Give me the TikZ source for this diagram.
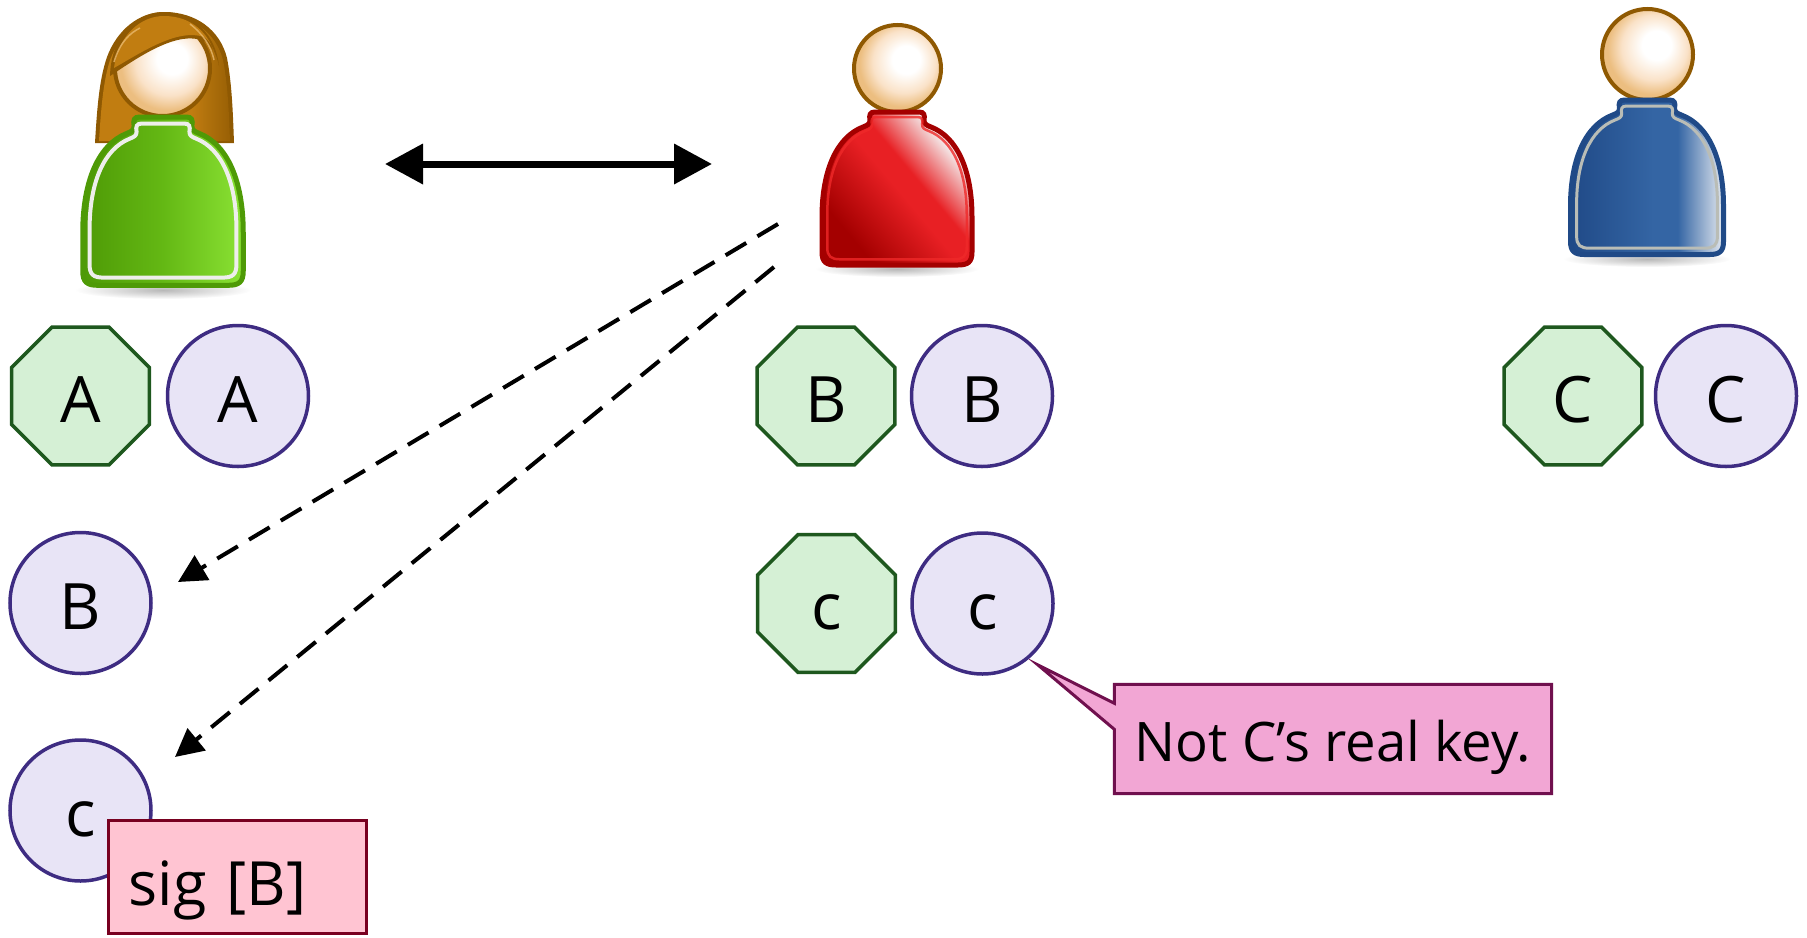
\documentclass[tikz,border=0pt]{standalone}
\usepackage{fontspec}
\setmainfont{Open Sans}
\usetikzlibrary{shapes.geometric,arrows.meta,calc,fadings,backgrounds}

% palette
\definecolor{octfill}{RGB}{213,240,213}
\definecolor{octline}{RGB}{30,88,30}
\definecolor{circfill}{RGB}{232,228,246}
\definecolor{circline}{RGB}{62,44,130}
\definecolor{notefill}{RGB}{242,166,212}
\definecolor{noteline}{RGB}{112,16,78}
\definecolor{sigfill}{RGB}{255,196,210}
\definecolor{sigline}{RGB}{120,0,32}
\definecolor{skinA}{RGB}{250,226,200}
\definecolor{skinB}{RGB}{236,190,128}
\definecolor{headline}{RGB}{143,89,2}
\definecolor{hairmid}{RGB}{193,125,17}
\definecolor{hairdark}{RGB}{143,89,2}
\definecolor{hairlight}{RGB}{233,185,110}
\definecolor{gA}{RGB}{78,154,6}
\definecolor{gB}{RGB}{100,184,20}
\definecolor{gC}{RGB}{138,226,52}
\definecolor{gEdge}{RGB}{78,154,6}
\definecolor{gInner}{RGB}{238,238,236}
\definecolor{rA}{RGB}{164,0,0}
\definecolor{rB}{RGB}{232,32,36}
\definecolor{rC}{RGB}{244,236,236}
\definecolor{rEdge}{RGB}{164,0,0}
\definecolor{rInner}{RGB}{239,41,41}
\definecolor{bA}{RGB}{32,74,135}
\definecolor{bB}{RGB}{52,101,164}
\definecolor{bC}{RGB}{228,233,240}
\definecolor{bEdge}{RGB}{32,74,135}
\definecolor{bInner}{RGB}{186,189,182}

% body shadings
\pgfdeclarehorizontalshading{greenbody}{100bp}{color(0bp)=(gA); color(25bp)=(gA); color(50bp)=(gB); color(75bp)=(gC); color(100bp)=(gC)}
\pgfdeclarehorizontalshading{bluebody}{100bp}{color(0bp)=(bA); color(25bp)=(bA); color(52bp)=(bB); color(60bp)=(bB); color(75bp)=(bC); color(100bp)=(bC)}
\pgfdeclarehorizontalshading{redbody}{100bp}{color(0bp)=(rA); color(28bp)=(rA); color(50bp)=(rB); color(57bp)=(rB); color(72bp)=(rC); color(100bp)=(rC)}
\pgfdeclareradialshading{headshade}{\pgfpoint{6bp}{6bp}}{color(0bp)=(white); color(8bp)=(white); color(18bp)=(skinA); color(25bp)=(skinB); color(50bp)=(skinB)}
\pgfdeclarehorizontalshading{hairshade}{100bp}{color(0bp)=(hairmid); color(25bp)=(hairmid); color(60bp)=(hairmid); color(75bp)=(hairdark!80!hairmid); color(100bp)=(hairdark)}
\tikzfading[name=softedge, inner color=transparent!0, outer color=transparent!100]

\newcommand\keyfont{\fontsize{64}{70}\selectfont}
\newcommand\notefont{\fontsize{54.5}{62}\selectfont}
\newcommand\sigfont{\fontsize{61}{68}\selectfont}

% torso outline, neck top centre at the origin, y pointing down
\def\torsopath{(0,0) -- (22,0) .. controls (27,0) and (28,3) .. (27,8)
  .. controls (27,12) and (29,13) .. (34,15)
  .. controls (60,25) and (75,58) .. (75,105) -- (75,140)
  .. controls (75,150) and (71,153) .. (61,153) -- (-61,153)
  .. controls (-71,153) and (-75,150) .. (-75,140) -- (-75,105)
  .. controls (-75,58) and (-60,25) .. (-34,15)
  .. controls (-29,13) and (-27,12) .. (-27,8)
  .. controls (-28,3) and (-27,0) .. (-22,0) -- cycle}

\tikzset{
  keyoct/.style={regular polygon, regular polygon sides=8, minimum size=149pt,
    inner sep=0pt, draw=octline, fill=octfill, line width=3.5pt, font=\keyfont,
    text height=52pt, text depth=0pt},
  keycirc/.style={circle, minimum size=141pt, inner sep=0pt, draw=circline,
    fill=circfill, line width=3.5pt, font=\keyfont, text height=52pt, text depth=0pt},
  headball/.style={shading=headshade, draw=headline, line width=4pt},
  dropshadow/.style={fill=black, opacity=0.28, path fading=softedge},
  dasharrow/.style={line width=4pt, dash pattern=on 24pt off 13pt,
    -{Triangle[length=28pt,width=28pt]}},
  bigarrow/.style={line width=7pt,
    {Triangle[length=38pt,width=39pt]}-{Triangle[length=38pt,width=39pt]}},
}

\begin{document}
\begin{tikzpicture}[x=1pt,y=-1pt]
\path[use as bounding box] (0,0) rectangle (1807,937);
\clip (0,0) rectangle (1807,937);

% ---------- woman (green) ----------
\fill[hairdark] (95,143) .. controls (97,110) and (99,80) .. (107,57)
  .. controls (117,30) and (139,12) .. (164,12)
  .. controls (196,12) and (220,30) .. (227,58)
  .. controls (232,84) and (233,115) .. (234,143) -- cycle;
\shade[shading=hairshade] (99,141) .. controls (101,110) and (103,82) .. (110,60)
  .. controls (120,34) and (141,16) .. (164,16)
  .. controls (193,16) and (216,33) .. (223,60)
  .. controls (228,85) and (229,115) .. (230,141) -- cycle;
\shadedraw[headball] (162.5,68.5) circle (47.5);
% fringe across the forehead
\fill[hairdark] (110,76) .. controls (140,56) and (178,30) .. (204,41)
  .. controls (212,46) and (217,55) .. (219,66)
  .. controls (216,36) and (194,12) .. (164,12)
  .. controls (136,12) and (111,36) .. (110,76) -- cycle;
\fill[hairmid] (114,68) .. controls (142,52) and (178,28) .. (204,37)
  .. controls (210,41) and (214,49) .. (215,56)
  .. controls (210,34) and (192,16) .. (164,16)
  .. controls (140,16) and (118,36) .. (114,68) -- cycle;
\draw[hairlight, line width=1.5pt, opacity=0.8] (114,62) .. controls (120,42) and (130,33) .. (140,28);
\draw[hairlight, line width=1.5pt, opacity=0.8] (190,24) .. controls (203,34) and (211,46) .. (214,60);
\fill[dropshadow] (163,290) ellipse (88 and 9);
\begin{scope}[shift={(163,117)}, xscale=1.07, yscale=1.1]
  \shadedraw[shading=greenbody, draw=gEdge, line width=5pt] \torsopath;
  \begin{scope}[shift={(0,6)}, xscale=0.915, yscale=0.915]
    \draw[gInner, line width=4pt] \torsopath;
  \end{scope}
\end{scope}

% ---------- red person ----------
\shadedraw[headball] (897.5,68.5) circle (43.5);
\fill[dropshadow] (897,269) ellipse (82 and 8);
\begin{scope}[shift={(897,112)}]
  \shadedraw[shading=redbody, shading angle=40, draw=rEdge, line width=5pt] \torsopath;
  \begin{scope}[shift={(0,5)}, xscale=0.93, yscale=0.93]
    \draw[rInner, line width=2.5pt, opacity=0.8] \torsopath;
  \end{scope}
\end{scope}

% ---------- blue person ----------
\shadedraw[headball] (1647.5,54.5) circle (45.5);
\fill[dropshadow] (1647,259) ellipse (84 and 8);
\begin{scope}[shift={(1647,100)}, xscale=1.02, yscale=1.01]
  \shadedraw[shading=bluebody, draw=bEdge, line width=5pt] \torsopath;
  \begin{scope}[shift={(0,6)}, xscale=0.92, yscale=0.92]
    \draw[bInner, line width=3pt] \torsopath;
  \end{scope}
\end{scope}

% ---------- keys ----------
\node[keyoct]  (octA) at (80.5,396) {A};
\node[keycirc] (cirA) at (238,396) {A};
\node[keyoct]  (octB) at (826,396) {B};
\node[keycirc] (cirB) at (982,396) {B};
\node[keyoct]  (octC) at (1573,396) {C};
\node[keycirc] (cirC) at (1726,396) {C};

\node[keycirc] (gotB) at (80.5,603) {B};
\node[keyoct]  (octc) at (826.5,603.5) {c};
\node[keycirc] (circ) at (982.5,603.5) {c};
\node[keycirc] (gotc) at (80.5,810.5) {c};

% ---------- arrows ----------
\coordinate (linkL) at (385,164);
\coordinate (linkR) at (712,164);
\draw[bigarrow] (linkL) -- (linkR);

\coordinate (sendB) at (778,224);
\coordinate (recvB) at (178,582);
\coordinate (sendc) at (774,267);
\coordinate (recvc) at (175,757);
\draw[dasharrow] (sendB) -- (recvB);
\draw[dasharrow] (sendc) -- (recvc);

% ---------- signature tag ----------
\node[draw=sigline, fill=sigfill, line width=3pt, minimum width=258pt,
  minimum height=113pt, inner xsep=20pt, text width=218pt, align=left,
  font=\sigfont, text height=60pt, text depth=4pt] (sig) at (237.5,877) {sig [B]};

% ---------- callout ----------
\node[minimum width=437pt, minimum height=109pt, inner sep=0pt, font=\notefont,
  text height=52pt, text depth=8pt] (note) at (1333,739) {Not C’s real key.};
\coordinate (notetip) at (1038,665);
\begin{scope}[on background layer]
  \draw[draw=noteline, fill=notefill, line width=3pt, line join=miter]
    (note.north west) -- (note.north east) -- (note.south east) -- (note.south west)
    -- ($(note.north west)+(0,45)$) -- (notetip) -- ($(note.north west)+(0,19)$) -- cycle;
\end{scope}
\end{tikzpicture}
\end{document}
